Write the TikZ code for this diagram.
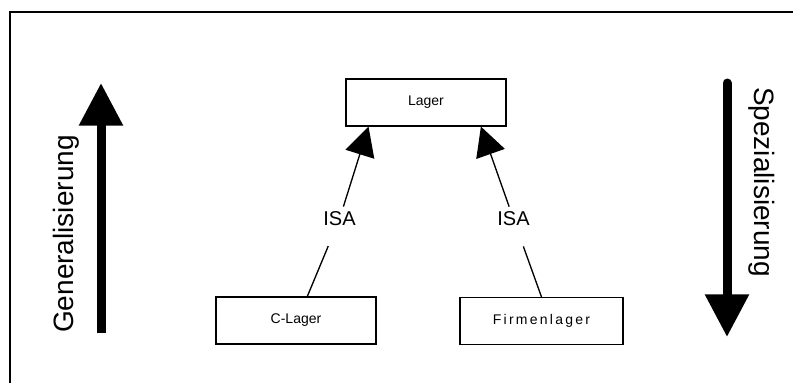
\documentclass[tikz,border=0pt]{standalone}
\usepackage{fontspec}
\setmainfont{Liberation Sans}
\usetikzlibrary{arrows.meta,calc,positioning}

\begin{document}
\begin{tikzpicture}[x=0.75pt, y=-0.75pt,
    block/.style={rectangle, draw, line width=1.1pt, minimum width=120pt, minimum height=35pt, font=\fontsize{10.5}{12}\selectfont},
    isa/.style={inner sep=0pt, font=\fontsize{15}{17}\selectfont},
    link/.style={line width=1pt},
    arrow/.style={line width=1pt, -{Triangle[length=21.75pt, width=22.5pt]}},
    bigarrow/.style={line width=6.75pt, -{Triangle[length=32pt, width=31.5pt]}},
    biglabel/.style={inner sep=0pt, font=\fontsize{21}{24}\selectfont}]

    \useasboundingbox (0,0) rectangle (793,383);
    \draw[line width=1.5pt] (793,12) -- (10,12) -- (10,383);

    \node[block] (lager) at (426,102.5) {Lager};
    \node[block] (clager) at (296,320.5) {C-Lager};
    \node[block, minimum width=122pt] (firmenlager) at (541.5,321) {\addfontfeature{LetterSpace=16}Firmenlager};

    \node[isa] (isaC) at (339.5,219) {ISA};
    \node[isa] (isaF) at (513.5,219) {ISA};

    \draw[link, shorten >=16pt] ($(clager.north west)!0.57!(clager.north east)$) -- (isaC);
    \draw[arrow, shorten <=4pt] (isaC) -- ($(lager.south west)!0.144!(lager.south east)$);
    \draw[link, shorten >=16pt] (firmenlager.north) -- (isaF);
    \draw[arrow, shorten <=4pt] (isaF) -- ($(lager.south west)!0.84!(lager.south east)$);

    % Generalisierung / Spezialisierung
    \coordinate (genstart) at (101,333);
    \coordinate (genend) at (101,83);
    \draw[bigarrow] (genstart) -- (genend);
    \node[biglabel, rotate=90] (gen) at (66,234) {Generalisierung};

    \coordinate (spezstart) at (727,83);
    \coordinate (spezend) at (727,337);
    \draw[bigarrow, line cap=round] (spezstart) -- (spezend);
    \node[biglabel, rotate=-90] (spez) at (762,182) {Spezialisierung};
\end{tikzpicture}
\end{document}
